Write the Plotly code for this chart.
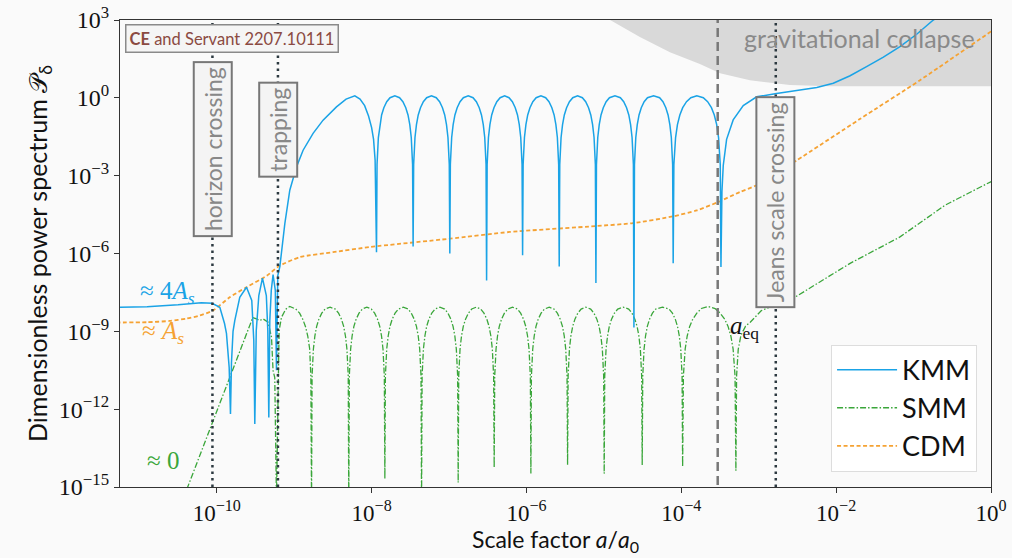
import numpy as np
import plotly.graph_objects as go

# ---------------- data (log10 of scale factor a/a0, log10 of P_delta) ----------------
kmm_log_a = [
    # before trapping
    -11.30, -10.90, -10.50, -10.20, -10.06, -9.961, -9.90, -9.875, -9.84, -9.823,
    -9.81, -9.79, -9.767, -9.703, -9.616, -9.548, -9.522, -9.509, -9.49, -9.457,
    -9.41, -9.36, -9.341, -9.328, -9.315, -9.296, -9.273, -9.244, -9.229, -9.212,
    # growth after trapping
    -9.186, -9.121, -9.057, -8.97, -8.885, -8.756, -8.627, -8.454, -8.33, -8.217,
    -8.15, -8.09, -8.04, -8.00, -7.975, -7.955, -7.937,
    # oscillations
    -7.930, -7.913, -7.894, -7.871, -7.842, -7.805, -7.762, -7.700,
    -7.639, -7.596, -7.559, -7.530, -7.507, -7.488, -7.471, -7.464,
    -7.457, -7.440, -7.421, -7.398, -7.369, -7.332, -7.289, -7.227,
    -7.165, -7.122, -7.085, -7.056, -7.033, -7.014, -6.997, -6.990,
    -6.983, -6.966, -6.947, -6.924, -6.895, -6.858, -6.815, -6.752,
    -6.690, -6.647, -6.610, -6.581, -6.558, -6.539, -6.522, -6.515,
    -6.508, -6.491, -6.472, -6.449, -6.420, -6.383, -6.340, -6.282,
    -6.225, -6.182, -6.145, -6.116, -6.093, -6.074, -6.057, -6.050,
    -6.043, -6.026, -6.007, -5.984, -5.955, -5.918, -5.875, -5.813,
    -5.752, -5.709, -5.672, -5.643, -5.620, -5.601, -5.584, -5.577,
    -5.570, -5.553, -5.534, -5.511, -5.482, -5.445, -5.402, -5.340,
    -5.278, -5.235, -5.198, -5.169, -5.146, -5.127, -5.110, -5.103,
    -5.096, -5.079, -5.060, -5.037, -5.008, -4.971, -4.928, -4.857,
    -4.787, -4.744, -4.707, -4.678, -4.655, -4.636, -4.619, -4.612,
    -4.605, -4.588, -4.569, -4.546, -4.517, -4.480, -4.437, -4.358,
    -4.280, -4.237, -4.200, -4.171, -4.148, -4.129, -4.112, -4.105,
    -4.096, -4.074, -4.050, -4.019, -3.982, -3.933, -3.877, -3.800,
    -3.716, -3.660, -3.611, -3.574, -3.543, -3.519, -3.497, -3.488,
    # after equality
    -3.475, -3.458, -3.415, -3.33, -3.20, -3.027, -2.77, -2.47, -2.25, -2.037,
    -1.82, -1.607, -1.39, -1.176, -0.96, -0.745, -0.53,
]
kmm_log_p = [
    -8.08, -8.05, -7.98, -7.90, -7.92, -8.07, -8.70, -9.08, -10.39, -12.19,
    -10.20, -9.00, -8.58, -7.69, -7.30, -7.81, -9.35, -12.57, -8.97, -7.62,
    -6.95, -7.62, -8.97, -12.32, -8.58, -7.42, -6.81, -7.42, -10.50, -6.85,
    -6.52, -4.85, -3.56, -2.66, -2.02, -1.37, -0.86, -0.35, -0.05, 0.08,
    -0.05, -0.30, -0.70, -1.15, -1.60, -2.40, -5.95,
    -2.57, -1.53, -1.03, -0.66, -0.38, -0.15, 0.005, 0.08,
    0.005, -0.15, -0.38, -0.66, -1.03, -1.53, -2.57, -5.73,
    -2.57, -1.53, -1.03, -0.66, -0.38, -0.15, 0.005, 0.08,
    0.005, -0.15, -0.38, -0.66, -1.03, -1.53, -2.57, -6.00,
    -2.57, -1.53, -1.03, -0.66, -0.38, -0.15, 0.005, 0.08,
    0.005, -0.15, -0.38, -0.66, -1.03, -1.53, -2.57, -7.04,
    -2.57, -1.53, -1.03, -0.66, -0.38, -0.15, 0.005, 0.08,
    0.005, -0.15, -0.38, -0.66, -1.03, -1.53, -2.57, -6.07,
    -2.57, -1.53, -1.03, -0.66, -0.38, -0.15, 0.005, 0.08,
    0.005, -0.15, -0.38, -0.66, -1.03, -1.53, -2.57, -6.50,
    -2.57, -1.53, -1.03, -0.66, -0.38, -0.15, 0.005, 0.08,
    0.005, -0.15, -0.38, -0.66, -1.03, -1.53, -2.57, -7.14,
    -2.57, -1.53, -1.03, -0.66, -0.38, -0.15, 0.005, 0.08,
    0.005, -0.15, -0.38, -0.66, -1.03, -1.53, -2.57, -8.85,
    -2.57, -1.53, -1.03, -0.66, -0.38, -0.15, 0.005, 0.08,
    0.005, -0.15, -0.38, -0.66, -1.03, -1.53, -2.57, -6.38,
    -2.57, -1.53, -1.03, -0.66, -0.38, -0.15, 0.005, 0.08,
    0.005, -0.15, -0.38, -0.66, -1.03, -1.53, -2.57, -6.52,
    -3.60, -2.60, -1.60, -0.85, -0.30, 0.04, 0.17, 0.30, 0.40, 0.56,
    0.85, 1.20, 1.57, 1.97, 2.45, 3.00, 3.39,
]

smm_log_a = [
    # before trapping
    -10.44, -9.535, -9.487, -9.444, -9.402, -9.337, -9.293, -9.273, -9.251, -9.229,
    # first arch after trapping
    -9.195, -9.164, -9.11, -9.057, -8.98, -8.93, -8.89, -8.855, -8.825, -8.80, -8.785, -8.776,
    # oscillations
    -8.769, -8.752, -8.733, -8.710, -8.681, -8.644, -8.601, -8.536,
    -8.470, -8.427, -8.390, -8.361, -8.338, -8.319, -8.302, -8.295,
    -8.288, -8.271, -8.252, -8.229, -8.200, -8.163, -8.120, -8.062,
    -8.004, -7.961, -7.924, -7.895, -7.872, -7.853, -7.836, -7.829,
    -7.822, -7.805, -7.786, -7.763, -7.734, -7.697, -7.654, -7.592,
    -7.530, -7.487, -7.450, -7.421, -7.398, -7.379, -7.362, -7.355,
    -7.348, -7.331, -7.312, -7.289, -7.260, -7.223, -7.180, -7.118,
    -7.057, -7.014, -6.977, -6.948, -6.925, -6.906, -6.889, -6.882,
    -6.875, -6.858, -6.839, -6.816, -6.787, -6.750, -6.707, -6.650,
    -6.592, -6.549, -6.512, -6.483, -6.460, -6.441, -6.424, -6.417,
    -6.410, -6.393, -6.374, -6.351, -6.322, -6.285, -6.242, -6.180,
    -6.118, -6.075, -6.038, -6.009, -5.986, -5.967, -5.950, -5.943,
    -5.936, -5.919, -5.900, -5.877, -5.848, -5.811, -5.768, -5.706,
    -5.644, -5.601, -5.564, -5.535, -5.512, -5.493, -5.476, -5.469,
    -5.462, -5.445, -5.426, -5.403, -5.374, -5.337, -5.294, -5.232,
    -5.171, -5.128, -5.091, -5.062, -5.039, -5.020, -5.003, -4.996,
    -4.989, -4.972, -4.953, -4.930, -4.901, -4.864, -4.821, -4.750,
    -4.680, -4.637, -4.600, -4.571, -4.548, -4.529, -4.512, -4.505,
    -4.498, -4.481, -4.462, -4.439, -4.410, -4.373, -4.330, -4.244,
    -4.158, -4.115, -4.078, -4.049, -4.026, -4.007, -3.990, -3.983,
    -3.973, -3.950, -3.924, -3.892, -3.852, -3.800, -3.741, -3.657,
    -3.563, -3.498, -3.440, -3.396, -3.360, -3.331, -3.306, -3.295,
    # after equality
    -3.286, -3.265, -3.230, -3.170, -3.110, -2.966, -2.53, -1.82, -1.18, -0.594,
    0.02,
]
smm_log_p = [
    -15.50, -8.47, -8.52, -8.58, -8.52, -8.65, -9.23, -10.51, -10.78, -15.50,
    -8.97, -8.46, -8.15, -8.04, -8.14, -8.30, -8.53, -8.81, -9.18, -9.68, -10.72, -15.60,
    -10.72, -9.68, -9.18, -8.81, -8.53, -8.30, -8.14, -8.07,
    -8.14, -8.30, -8.53, -8.81, -9.18, -9.68, -10.72, -15.60,
    -10.72, -9.68, -9.18, -8.81, -8.53, -8.30, -8.14, -8.07,
    -8.14, -8.30, -8.53, -8.81, -9.18, -9.68, -10.72, -14.68,
    -10.72, -9.68, -9.18, -8.81, -8.53, -8.30, -8.14, -8.07,
    -8.14, -8.30, -8.53, -8.81, -9.18, -9.68, -10.72, -15.60,
    -10.72, -9.68, -9.18, -8.81, -8.53, -8.30, -8.14, -8.07,
    -8.14, -8.30, -8.53, -8.81, -9.18, -9.68, -10.72, -14.83,
    -10.72, -9.68, -9.18, -8.81, -8.53, -8.30, -8.14, -8.07,
    -8.14, -8.30, -8.53, -8.81, -9.18, -9.68, -10.72, -14.25,
    -10.72, -9.68, -9.18, -8.81, -8.53, -8.30, -8.14, -8.07,
    -8.14, -8.30, -8.53, -8.81, -9.18, -9.68, -10.72, -14.48,
    -10.72, -9.68, -9.18, -8.81, -8.53, -8.30, -8.14, -8.07,
    -8.14, -8.30, -8.53, -8.81, -9.18, -9.68, -10.72, -14.15,
    -10.72, -9.68, -9.18, -8.81, -8.53, -8.30, -8.14, -8.07,
    -8.14, -8.30, -8.53, -8.81, -9.18, -9.68, -10.72, -14.48,
    -10.72, -9.68, -9.18, -8.81, -8.53, -8.30, -8.14, -8.07,
    -8.14, -8.30, -8.53, -8.81, -9.18, -9.68, -10.72, -14.15,
    -10.72, -9.68, -9.18, -8.81, -8.53, -8.30, -8.14, -8.07,
    -8.14, -8.30, -8.53, -8.81, -9.18, -9.68, -10.72, -14.22,
    -10.72, -9.68, -9.18, -8.81, -8.53, -8.30, -8.12, -8.04,
    -8.12, -8.30, -8.53, -8.81, -9.18, -9.68, -10.72, -14.37,
    -10.72, -9.70, -9.15, -8.80, -8.65, -8.20, -7.68, -6.38, -5.37, -4.14,
    -3.20,
]

cdm_log_a = [
    -11.30, -10.90, -10.61, -10.39, -10.22, -10.05, -9.83, -9.616, -9.35, -9.205,
    -8.928, -8.50, -8.023, -6.99, -6.214, -5.09, -4.625, -4.109, -3.80, -3.527,
    -3.243, -3.027, -2.51, -1.70, -0.917, 0.02,
]
cdm_log_p = [
    -8.66, -8.65, -8.60, -8.51, -8.39, -8.20, -7.68, -7.30, -6.85, -6.50,
    -6.14, -5.95, -5.75, -5.43, -5.17, -4.94, -4.83, -4.57, -4.34, -4.02,
    -3.63, -3.37, -2.41, -0.83, 0.68, 2.60,
]

# gravitational-collapse region: lower boundary
collapse_log_a = [-4.95, -4.92, -4.535, -4.147, -3.76, -3.50, -3.114, -2.597, -2.08, 0.05]
collapse_log_p = [3.10, 3.00, 2.34, 1.76, 1.30, 0.95, 0.68, 0.49, 0.45, 0.45]
collapse_top = 3.10

# characteristic scale factors (log10)
horizon_log_a = -10.056
trapping_log_a = -9.21
jeans_log_a = -2.78
aeq_log_a = -3.53

x_tick_exponents = [-10, -8, -6, -4, -2, 0]
y_tick_exponents = [-15, -12, -9, -6, -3, 0, 3]

# ---------------- styling ----------------
C_KMM = "#1aa3e6"
C_SMM = "#3aa63a"
C_CDM = "#f5a233"
C_VL = "#2c3940"
SANS = "Lato"
SERIF = "Liberation Serif"
BG = "#fafafa"


def pw(v):
    return 10.0 ** np.asarray(v, dtype=float)


def power_labels(exps):
    return ["10<sup>%s</sup>" % (str(e).replace("-", "−")) for e in exps]


fig = go.Figure()

# collapse region
poly_x = list(collapse_log_a) + [collapse_log_a[-1], collapse_log_a[0]]
poly_y = list(collapse_log_p) + [collapse_top, collapse_top]
fig.add_trace(go.Scatter(x=pw(poly_x), y=pw(poly_y), mode="lines", fill="toself",
                         fillcolor="#d9d9d9", line=dict(width=0, color="#d9d9d9"),
                         showlegend=False, hoverinfo="skip"))

fig.add_trace(go.Scatter(x=pw(smm_log_a), y=pw(smm_log_p), mode="lines", name="SMM",
                         line=dict(color=C_SMM, width=1.3, dash="6px,2px,1.5px,2px"),
                         legendrank=2))
fig.add_trace(go.Scatter(x=pw(cdm_log_a), y=pw(cdm_log_p), mode="lines", name="CDM",
                         line=dict(color=C_CDM, width=1.8, dash="4px,2.5px", shape="spline", smoothing=0.6),
                         legendrank=3))
fig.add_trace(go.Scatter(x=pw(kmm_log_a), y=pw(kmm_log_p), mode="lines", name="KMM",
                         line=dict(color=C_KMM, width=1.5), legendrank=1))

# vertical lines
for lx in [horizon_log_a, trapping_log_a, jeans_log_a]:
    fig.add_trace(go.Scatter(x=pw([lx, lx]), y=[1e-16, 1e4], mode="lines",
                             line=dict(color=C_VL, width=2.5, dash="2.5px,4px"),
                             showlegend=False, hoverinfo="skip"))
fig.add_trace(go.Scatter(x=pw([aeq_log_a, aeq_log_a]), y=[1e-16, 1e4], mode="lines",
                         line=dict(color="#777777", width=2.5, dash="9px,5px"),
                         showlegend=False, hoverinfo="skip"))

ann = []
box_common = dict(xref="x", yref="y", showarrow=False, textangle=-90,
                  bgcolor="#f4f4f4", bordercolor="#777777", borderwidth=2, borderpad=4,
                  font=dict(family=SANS, size=23, color="#888888"))
ann.append(dict(x=horizon_log_a, y=-1.96, text="horizon crossing", **box_common))
ann.append(dict(x=trapping_log_a, y=-1.23, text="trapping", **box_common))
ann.append(dict(x=jeans_log_a, y=-4.03, text="Jeans scale crossing", **box_common))

ann.append(dict(x=-1.705, y=2.32, xref="x", yref="y", showarrow=False,
                text="gravitational collapse",
                font=dict(family=SANS, size=25, color="#8a8a8a")))
ann.append(dict(x=0.129, y=0.96, xref="paper", yref="paper", showarrow=False,
                xanchor="center", yanchor="middle",
                text="<b>CE</b> and Servant 2207.10111",
                bgcolor="#f5f5f5", bordercolor="#8a8a8a", borderwidth=1.5, borderpad=3,
                font=dict(family=SANS, size=16.5, color="#8b4a42")))
ann.append(dict(x=-10.64, y=-7.5, xref="x", yref="y", showarrow=False,
                text="≈ 4<i>A</i><sub><i>s</i></sub>",
                font=dict(family=SERIF, size=25, color=C_KMM)))
ann.append(dict(x=-10.69, y=-9.05, xref="x", yref="y", showarrow=False,
                text="≈ <i>A</i><sub><i>s</i></sub>",
                font=dict(family=SERIF, size=25, color=C_CDM)))
ann.append(dict(x=-10.69, y=-13.99, xref="x", yref="y", showarrow=False,
                text="≈ 0",
                font=dict(family=SERIF, size=25, color=C_SMM)))
ann.append(dict(x=-3.178, y=-8.85, xref="x", yref="y", showarrow=False,
                text="<i>a</i><sub>eq</sub>",
                font=dict(family=SERIF, size=25, color="#111111")))

# x-axis title placed explicitly below the tick labels
ann.append(dict(x=0.5, y=-0.115, xref="paper", yref="paper", showarrow=False,
                xanchor="center", yanchor="middle",
                text="Scale factor <i>a</i>/<i>a</i><sub>0</sub>",
                font=dict(family=SANS, size=23, color="#111")))

fig.update_layout(
    width=1012, height=558,
    margin=dict(l=120, r=21, t=20, b=71, autoexpand=False),
    paper_bgcolor=BG, plot_bgcolor=BG,
    annotations=ann,
    legend=dict(x=0.984, y=0.033, xanchor="right", yanchor="bottom",
                bgcolor="#ffffff", bordercolor="#dddddd", borderwidth=1,
                font=dict(family=SANS, size=27, color="#111111"),
                itemwidth=60, tracegroupgap=8),
    showlegend=True,
)
fig.update_xaxes(type="log", range=[-11.25, 0], automargin=False,
                 tickvals=pw(x_tick_exponents), ticktext=power_labels(x_tick_exponents),
                 ticks="outside", ticklen=5, tickcolor="#333",
                 showline=True, mirror=True, linecolor="#333", linewidth=1.2,
                 showgrid=False, zeroline=False,
                 tickfont=dict(family=SERIF, size=23, color="#111"))
fig.update_yaxes(type="log", range=[-15, 3], automargin=False,
                 tickvals=pw(y_tick_exponents), ticktext=power_labels(y_tick_exponents),
                 ticks="outside", ticklen=5, tickcolor="#333",
                 showline=True, mirror=True, linecolor="#333", linewidth=1.2,
                 showgrid=False, zeroline=False,
                 tickfont=dict(family=SERIF, size=24, color="#111"),
                 title=dict(text="Dimensionless power spectrum 𝒫<sub>δ</sub>",
                            font=dict(family=SANS, size=25, color="#111"), standoff=4))

fig.write_html("out.html")
